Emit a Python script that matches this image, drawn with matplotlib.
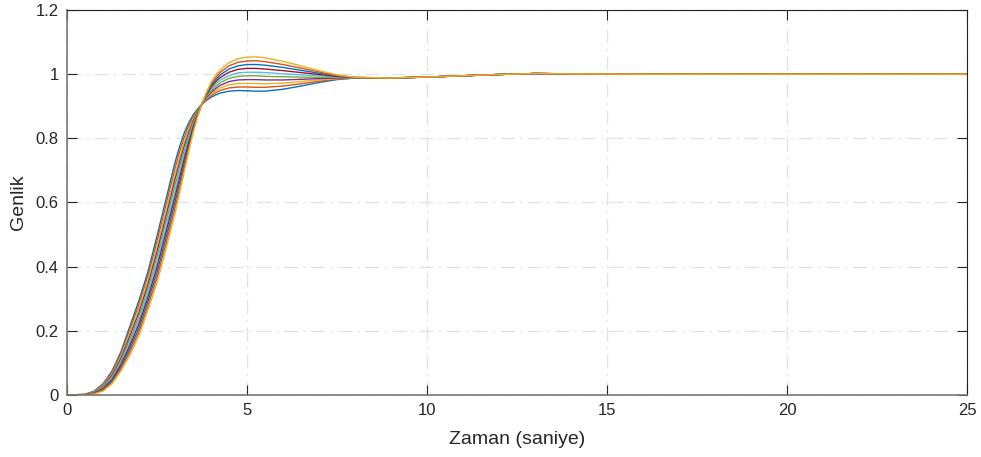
import matplotlib
matplotlib.use('Agg')
from matplotlib import pyplot as plt

# zaman ekseni (yükselme bölgesi) ve ortak kuyruk
t_rise = [0, 0.5, 0.75, 1.0, 1.25, 1.5, 1.75, 2.0, 2.25, 2.5, 2.75, 3.0, 3.125, 3.25,
          3.375, 3.5, 3.625, 3.75, 3.875, 4.0, 4.125, 4.25, 4.5, 4.75, 5.0, 5.25,
          5.5, 6.0, 6.5, 7.0, 7.5, 8.0]
t_tail = [9, 10, 11, 12, 13, 14, 16, 20, 25]
y_tail = [0.988, 0.991, 0.995, 0.999, 1.002, 1.001, 1.0, 1.0, 1.0]

# her eğri için okunan genlik değerleri
c0 = [0, 0.002, 0.012, 0.035, 0.075, 0.135, 0.215, 0.295, 0.385, 0.495, 0.610, 0.725, 0.773, 0.815, 0.847, 0.872, 0.891, 0.906, 0.918, 0.928, 0.935, 0.941, 0.947, 0.949, 0.948, 0.947, 0.947, 0.953, 0.963, 0.974, 0.983, 0.988]
c1 = [0, 0.002, 0.011, 0.032, 0.071, 0.128, 0.205, 0.283, 0.372, 0.479, 0.593, 0.707, 0.757, 0.801, 0.837, 0.866, 0.888, 0.906, 0.921, 0.933, 0.942, 0.949, 0.957, 0.960, 0.960, 0.959, 0.959, 0.963, 0.970, 0.978, 0.985, 0.988]
c2 = [0, 0.002, 0.010, 0.030, 0.066, 0.122, 0.195, 0.271, 0.358, 0.463, 0.576, 0.689, 0.741, 0.788, 0.827, 0.859, 0.885, 0.906, 0.924, 0.938, 0.949, 0.957, 0.967, 0.971, 0.971, 0.971, 0.970, 0.972, 0.977, 0.982, 0.986, 0.988]
c3 = [0, 0.001, 0.009, 0.027, 0.062, 0.115, 0.185, 0.258, 0.345, 0.447, 0.558, 0.672, 0.725, 0.774, 0.816, 0.853, 0.883, 0.907, 0.927, 0.943, 0.955, 0.965, 0.977, 0.982, 0.983, 0.983, 0.982, 0.982, 0.984, 0.986, 0.988, 0.989]
c4 = [0, 0.001, 0.008, 0.025, 0.057, 0.108, 0.175, 0.246, 0.332, 0.431, 0.541, 0.654, 0.709, 0.760, 0.806, 0.847, 0.880, 0.907, 0.930, 0.948, 0.962, 0.973, 0.987, 0.993, 0.995, 0.995, 0.993, 0.992, 0.991, 0.990, 0.990, 0.989]
c5 = [0, 0.001, 0.007, 0.022, 0.053, 0.102, 0.165, 0.234, 0.318, 0.414, 0.524, 0.636, 0.692, 0.747, 0.796, 0.840, 0.877, 0.907, 0.932, 0.954, 0.969, 0.981, 0.996, 1.004, 1.006, 1.006, 1.005, 1.001, 0.998, 0.995, 0.991, 0.989]
c6 = [0, 0.001, 0.006, 0.020, 0.048, 0.095, 0.155, 0.222, 0.305, 0.398, 0.507, 0.618, 0.676, 0.733, 0.786, 0.834, 0.874, 0.907, 0.935, 0.959, 0.976, 0.989, 1.006, 1.015, 1.018, 1.018, 1.016, 1.011, 1.005, 0.999, 0.993, 0.989]
c7 = [0, 0.000, 0.005, 0.017, 0.044, 0.088, 0.145, 0.209, 0.292, 0.382, 0.489, 0.601, 0.660, 0.719, 0.775, 0.828, 0.872, 0.908, 0.938, 0.964, 0.982, 0.997, 1.016, 1.026, 1.030, 1.030, 1.028, 1.021, 1.012, 1.003, 0.995, 0.990]
c8 = [0, 0.000, 0.004, 0.015, 0.039, 0.082, 0.135, 0.197, 0.278, 0.366, 0.472, 0.583, 0.644, 0.706, 0.765, 0.821, 0.869, 0.908, 0.941, 0.969, 0.989, 1.005, 1.026, 1.037, 1.041, 1.042, 1.039, 1.030, 1.019, 1.007, 0.996, 0.990]
c9 = [0, 0.000, 0.003, 0.012, 0.035, 0.075, 0.125, 0.185, 0.265, 0.350, 0.455, 0.565, 0.628, 0.692, 0.755, 0.815, 0.866, 0.908, 0.944, 0.974, 0.996, 1.013, 1.036, 1.048, 1.053, 1.054, 1.051, 1.040, 1.026, 1.011, 0.998, 0.990]
egriler = [c0, c1, c2, c3, c4, c5, c6, c7, c8, c9]

renkler = ['#0072BD', '#D95319', '#EDB120', '#7E2F8E', '#77AC30',
           '#4DBEEE', '#A2142F']

x_ticks = [0, 5, 10, 15, 20, 25]
y_ticks = [0, 0.2, 0.4, 0.6, 0.8, 1.0, 1.2]
y_tick_labels = ['0', '0.2', '0.4', '0.6', '0.8', '1', '1.2']

plt.rcParams['font.family'] = ['Liberation Sans', 'DejaVu Sans']

fig = plt.figure(figsize=(9.81, 4.57), dpi=100)
ax = fig.add_axes([67 / 981, 62 / 457, 900 / 981, 385 / 457])

t_all = t_rise + t_tail
for i, c in enumerate(egriler):
    ax.plot(t_all, c + y_tail, color=renkler[i % len(renkler)], linewidth=1.0)

ax.set_xlim(0, 25)
ax.set_ylim(0, 1.2)
ax.set_xticks(x_ticks)
ax.set_yticks(y_ticks)
ax.set_yticklabels(y_tick_labels)
ax.tick_params(direction='in', length=7, width=0.8, labelsize=12,
               top=True, right=True, colors='#262626', pad=6)

# MATLAB tarzı noktalı-kesikli ızgara
ax.grid(True, color='#e3e3e3', linewidth=1.0, linestyle=(0, (10, 4, 1.5, 4)))
ax.set_axisbelow(True)

for s in ['left', 'bottom']:
    ax.spines[s].set_color('#777777')
    ax.spines[s].set_linewidth(1.2)
for s in ['top', 'right']:
    ax.spines[s].set_color('#222222')
    ax.spines[s].set_linewidth(0.8)

ax.set_xlabel('Zaman (saniye)', fontsize=14, color='#262626', labelpad=9)
ax.set_ylabel('Genlik', fontsize=14, color='#262626', labelpad=6)

plt.savefig('out.png', dpi=100)
plt.close()
